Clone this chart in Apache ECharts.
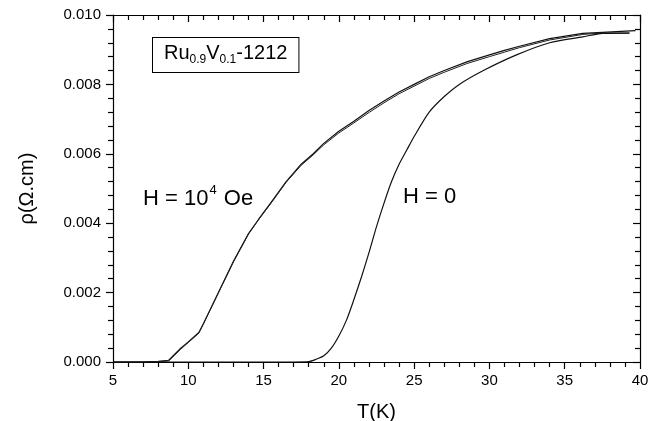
<!DOCTYPE html>
<html>
<head>
<meta charset="utf-8">
<script src="https://cdn.jsdelivr.net/npm/echarts@6/dist/echarts.min.js"></script>
<style>
html,body{margin:0;padding:0;background:#fff;}
#chart{width:660px;height:421px;}
</style>
</head>
<body>
<div id="chart"></div>
<script>
var xTicks = [5, 10, 15, 20, 25, 30, 35, 40];
var yTicks = [0.000, 0.002, 0.004, 0.006, 0.008, 0.010];

var tempsHigh = [5, 7, 8, 8.7, 9.5, 10, 10.7, 11, 12, 13, 14, 14.65, 15.5, 16.5, 17.5, 18.3, 19, 20, 21, 22, 23, 24, 25, 26, 27, 28.5, 30, 31, 32, 34, 36.2, 37.5, 39.7];
var rhoHighA = [0, 0, 0.00002, 0.00005, 0.0004, 0.00058, 0.00085, 0.0011, 0.0020, 0.0029, 0.0037, 0.0041, 0.0046, 0.0052, 0.0057, 0.0060, 0.0063, 0.00665, 0.00694, 0.00725, 0.00752, 0.00778, 0.00800, 0.00822, 0.0084, 0.00865, 0.00885, 0.00898, 0.0091, 0.00932, 0.00947, 0.0095, 0.00955];
var tempsHighB = [5, 7, 8, 8.7, 9.5, 10, 10.7, 11, 12, 13, 14, 14.65, 15.5, 16.5, 17.5, 18.3, 19, 20, 21, 22, 23, 24, 25, 26, 27, 28.5, 30, 31, 32, 34, 36.2, 37.5, 39.3];
var rhoHighB = [0, 0, 0.00001, 0.00003, 0.00037, 0.00056, 0.00083, 0.00109, 0.00199, 0.00289, 0.00369, 0.00409, 0.00458, 0.00518, 0.00567, 0.00597, 0.00626, 0.00660, 0.00689, 0.00719, 0.00747, 0.00773, 0.00795, 0.00817, 0.00835, 0.0086, 0.0088, 0.00893, 0.00906, 0.00928, 0.00944, 0.00948, 0.00948];

var tempsZero = [5, 17, 18, 18.5, 19, 19.5, 20, 20.5, 21, 21.5, 22, 22.5, 23, 23.5, 24, 24.5, 25, 26, 27, 28, 29.6, 31.8, 34, 36.2, 37.5, 39.3];
var rhoZero = [0, 0, 0.00001, 0.00008, 0.00018, 0.0004, 0.00075, 0.0012, 0.0018, 0.00245, 0.00315, 0.0039, 0.00458, 0.0052, 0.0057, 0.0061, 0.0065, 0.0072, 0.00765, 0.0080, 0.0084, 0.00885, 0.0092, 0.00937, 0.00947, 0.00948];

function pairs(xs, ys) { return xs.map(function (x, i) { return [x, ys[i]]; }); }

var FONT = 'Liberation Sans, Arial, sans-serif';
var chart = echarts.init(document.getElementById('chart'));

var axisLineStyle = { color: '#000', width: 1.2 };
var option = {
  animation: false,
  backgroundColor: '#fff',
  grid: { left: 113, right: 20, top: 15, bottom: 59, containLabel: false, outerBoundsMode: 'none' },
  xAxis: [{
    type: 'value', min: xTicks[0], max: xTicks[xTicks.length - 1], interval: 5,
    position: 'bottom',
    name: 'T(K)', nameLocation: 'middle', nameGap: 40,
    nameTextStyle: { fontFamily: FONT, fontSize: 20, color: '#000' },
    axisLine: { show: true, onZero: false, lineStyle: axisLineStyle },
    axisTick: { show: true, inside: false, length: 7, lineStyle: axisLineStyle },
    minorTick: { show: true, splitNumber: 5, length: 5, lineStyle: { color: '#000', width: 1.2 } },
    axisLabel: { fontFamily: FONT, fontSize: 15, color: '#000', margin: 11 },
    splitLine: { show: false }
  }, {
    type: 'value', min: xTicks[0], max: xTicks[xTicks.length - 1], interval: 5,
    position: 'top',
    axisLine: { show: true, onZero: false, lineStyle: axisLineStyle },
    axisTick: { show: true, inside: true, length: 7, lineStyle: axisLineStyle },
    minorTick: { show: true, splitNumber: 5, length: 5, lineStyle: { color: '#000', width: 1.2 } },
    axisLabel: { show: false },
    splitLine: { show: false }
  }],
  yAxis: [{
    type: 'value', min: yTicks[0], max: yTicks[yTicks.length - 1], interval: 0.002,
    position: 'left',
    name: 'ρ(Ω.cm)', nameLocation: 'middle', nameGap: 76, nameRotate: 90,
    nameTextStyle: { fontFamily: FONT, fontSize: 20, color: '#000' },
    axisLine: { show: true, onZero: false, lineStyle: axisLineStyle },
    axisTick: { show: true, inside: false, length: 7, lineStyle: axisLineStyle },
    minorTick: { show: true, splitNumber: 5, length: 5, lineStyle: { color: '#000', width: 1.2 } },
    axisLabel: { fontFamily: FONT, fontSize: 15, color: '#000', margin: 12,
      formatter: function (v) { return v.toFixed(3); } },
    splitLine: { show: false }
  }, {
    type: 'value', min: yTicks[0], max: yTicks[yTicks.length - 1], interval: 0.002,
    position: 'right',
    axisLine: { show: true, onZero: false, lineStyle: axisLineStyle },
    axisTick: { show: true, inside: true, length: 7, lineStyle: axisLineStyle },
    minorTick: { show: true, splitNumber: 5, length: 5, lineStyle: { color: '#000', width: 1.2 } },
    axisLabel: { show: false },
    splitLine: { show: false }
  }],
  series: [{
    type: 'line', name: 'H=1e4 a', data: pairs(tempsHigh, rhoHighA),
    showSymbol: false, smooth: false, lineStyle: { color: '#111', width: 1.2 }
  }, {
    type: 'line', name: 'H=1e4 b', data: pairs(tempsHighB, rhoHighB),
    showSymbol: false, smooth: false, lineStyle: { color: '#222', width: 1 }
  }, {
    type: 'line', name: 'H=0', data: pairs(tempsZero, rhoZero),
    showSymbol: false, smooth: 0.25, lineStyle: { color: '#111', width: 1.2 }
  }],
  graphic: [{
    type: 'text', left: 143, top: 184,
    style: {
      text: '{n|H = 10}{s|4}{n| Oe}',
      rich: {
        n: { fontFamily: FONT, fontSize: 22, fill: '#000', lineHeight: 26, verticalAlign: 'bottom' },
        s: { fontFamily: FONT, fontSize: 13, fill: '#000', lineHeight: 26, verticalAlign: 'top', padding: [0, 1, 0, 1] }
      }
    }
  }, {
    type: 'text', left: 403, top: 186,
    style: { text: 'H = 0', fontFamily: FONT, fontSize: 22, fill: '#000' }
  }, {
    type: 'text', left: 152, top: 37,
    style: {
      text: '{n|Ru}{s|0.9}{n|V}{s|0.1}{n|-1212}',
      borderColor: '#000', borderWidth: 1, padding: [5, 11, 6, 11],
      backgroundColor: '#fff',
      rich: {
        n: { fontFamily: FONT, fontSize: 20, fill: '#000', lineHeight: 23, verticalAlign: 'top' },
        s: { fontFamily: FONT, fontSize: 12, fill: '#000', lineHeight: 23, verticalAlign: 'bottom' }
      }
    }
  }]
};
chart.setOption(option);
</script>
</body>
</html>
